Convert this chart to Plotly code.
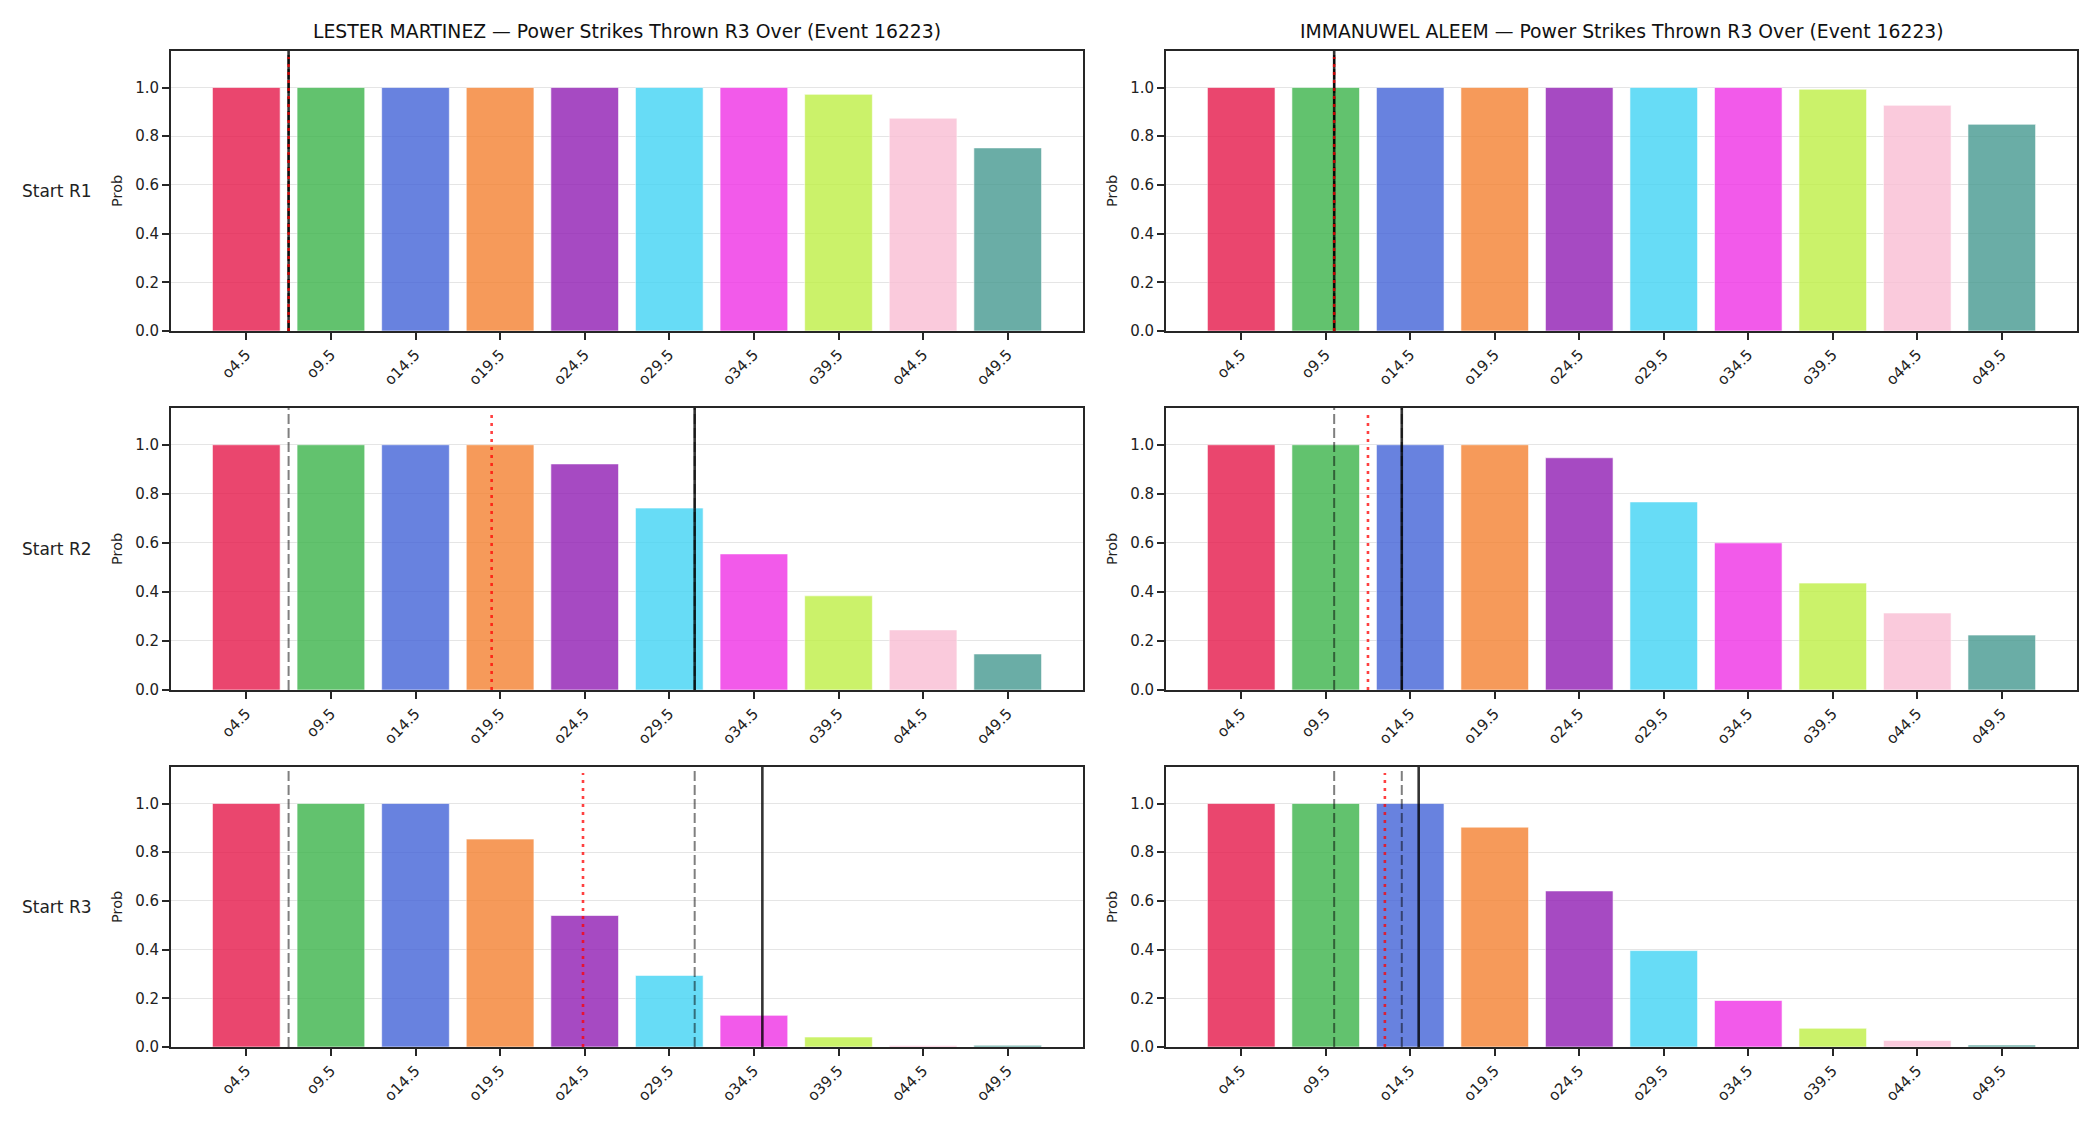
import numpy as np
import plotly.graph_objects as go

fighters = ["LESTER MARTINEZ", "IMMANUWEL ALEEM"]
event_id = 16223
row_labels = ["Start R1", "Start R2", "Start R3"]
tick_labels = ["o4.5", "o9.5", "o14.5", "o19.5", "o24.5", "o29.5", "o34.5", "o39.5", "o44.5", "o49.5"]
thresholds = [4.5, 9.5, 14.5, 19.5, 24.5, 29.5, 34.5, 39.5, 44.5, 49.5]

# probabilities of going over each line, per start round
martinez_r1 = [1.0, 1.0, 1.0, 1.0, 1.0, 1.0, 1.0, 0.972, 0.874, 0.752]
martinez_r2 = [1.0, 1.0, 1.0, 1.0, 0.922, 0.742, 0.555, 0.384, 0.245, 0.147]
martinez_r3 = [1.0, 1.0, 1.0, 0.854, 0.540, 0.294, 0.130, 0.041, 0.006, 0.007]
aleem_r1 = [1.0, 1.0, 1.0, 1.0, 1.0, 1.0, 1.0, 0.993, 0.927, 0.849]
aleem_r2 = [1.0, 1.0, 1.0, 1.0, 0.947, 0.767, 0.600, 0.436, 0.314, 0.224]
aleem_r3 = [1.0, 1.0, 1.0, 0.903, 0.641, 0.396, 0.191, 0.077, 0.027, 0.008]

# reference lines (in strikes), per start round
martinez_gray_a = [7, 7, 7]
martinez_red = [7, 19, 24.4]
martinez_gray_b = [7, 31, 31]
martinez_black = [7, 31, 35]
aleem_gray_a = [10, 10, 10]
aleem_red = [10, 12, 13]
aleem_gray_b = [10, 14, 14]
aleem_black = [10, 14, 15]

bar_colors = ["#e6194b", "#3cb44b", "#4363d8", "#f58231", "#911eb4",
              "#42d4f4", "#f032e6", "#bfef45", "#fabed4", "#469990"]

probs = [[martinez_r1, aleem_r1], [martinez_r2, aleem_r2], [martinez_r3, aleem_r3]]
gray_a = [martinez_gray_a, aleem_gray_a]
reds = [martinez_red, aleem_red]
gray_b = [martinez_gray_b, aleem_gray_b]
blacks = [martinez_black, aleem_black]

W, H = 2100, 1125
col_px = [(171, 1083), (1166, 2077)]
row_px = [(51, 331), (408, 690), (767, 1047)]

idx = list(range(len(tick_labels)))
def pos(v):
    return float(np.interp(v, thresholds, idx))

fig = go.Figure()
layout = dict(width=W, height=H, margin=dict(l=0, r=0, t=0, b=0, pad=0),
              template="none",
              plot_bgcolor="white", paper_bgcolor="white", showlegend=False,
              font=dict(family="DejaVu Sans", color="#222222"))
shapes = []
annotations = []
spine = "#262626"

for r in range(3):
    for c in range(2):
        k = r * 2 + c + 1
        xa = "x" if k == 1 else f"x{k}"
        ya = "y" if k == 1 else f"y{k}"
        fig.add_trace(go.Bar(
            x=idx, y=probs[r][c], width=0.8,
            marker=dict(color=bar_colors, opacity=0.8,
                        line=dict(color="white", width=0.6)),
            xaxis=xa, yaxis=ya, hoverinfo="skip"))
        x0, x1 = col_px[c]
        y0, y1 = row_px[r]
        layout[f"xaxis{'' if k == 1 else k}"] = dict(
            domain=[x0 / W, x1 / W], anchor=ya, range=[-0.89, 9.89],
            automargin=False,
            tickmode="array", tickvals=idx, ticktext=tick_labels, tickangle=-45,
            ticks="outside", ticklen=7, tickwidth=1.5, tickcolor=spine,
            tickfont=dict(size=15, family="DejaVu Sans", color="#222222"),
            showgrid=False, zeroline=False, showline=True, linewidth=2,
            linecolor=spine, mirror=True, fixedrange=True)
        layout[f"yaxis{'' if k == 1 else k}"] = dict(
            domain=[1 - y1 / H, 1 - y0 / H], anchor=xa, range=[0, 1.15],
            automargin=False,
            tickmode="array", tickvals=[0, 0.2, 0.4, 0.6, 0.8, 1.0],
            tickformat=".1f", ticks="outside", ticklen=7, tickwidth=1.5,
            tickcolor=spine,
            tickfont=dict(size=15, family="DejaVu Sans", color="#222222"),
            showgrid=True, gridcolor="#e5e5e5", gridwidth=1.2,
            zeroline=False, showline=True, linewidth=2, linecolor=spine,
            mirror=True, fixedrange=True)
        yd = f"{ya} domain"
        def vline(v, color, width, dash, top=1.0):
            p = pos(v)
            shapes.append(dict(type="line", xref=xa, yref=yd, x0=p, x1=p,
                               y0=0, y1=top, layer="above",
                               line=dict(color=color, width=width, dash=dash)))
        vline(gray_a[c][r], "rgba(0,0,0,0.5)", 2, "10px,4px")
        vline(gray_b[c][r], "rgba(0,0,0,0.5)", 2, "10px,4px")
        vline(blacks[c][r], "rgba(0,0,0,0.8)", 2.6, "solid")
        vline(reds[c][r], "rgba(255,0,0,0.75)", 2.6, "3px,5px", top=1.125 / 1.15)
        # Prob label
        annotations.append(dict(text="Prob", xref="paper", yref="paper",
                                x=(x0 - 54) / W, y=1 - (y0 + y1) / 2 / H,
                                textangle=-90, showarrow=False,
                                xanchor="center", yanchor="middle",
                                font=dict(size=14.5, family="DejaVu Sans", color="#222222")))
    annotations.append(dict(text=row_labels[r], xref="paper", yref="paper",
                            x=57 / W, y=1 - (row_px[r][0] + row_px[r][1]) / 2 / H,
                            showarrow=False, xanchor="center", yanchor="middle",
                            font=dict(size=17, family="DejaVu Sans", color="#222222")))

for c in range(2):
    annotations.append(dict(
        text=f"{fighters[c]} — Power Strikes Thrown R3 Over (Event {event_id})",
        xref="paper", yref="paper", x=(col_px[c][0] + col_px[c][1]) / 2 / W,
        y=1 - 31.5 / H, showarrow=False, xanchor="center", yanchor="middle",
        font=dict(size=18.8, family="DejaVu Sans", color="#111111")))

layout["shapes"] = shapes
layout["annotations"] = annotations
fig.update_layout(**layout)
fig.write_html("out.html")
